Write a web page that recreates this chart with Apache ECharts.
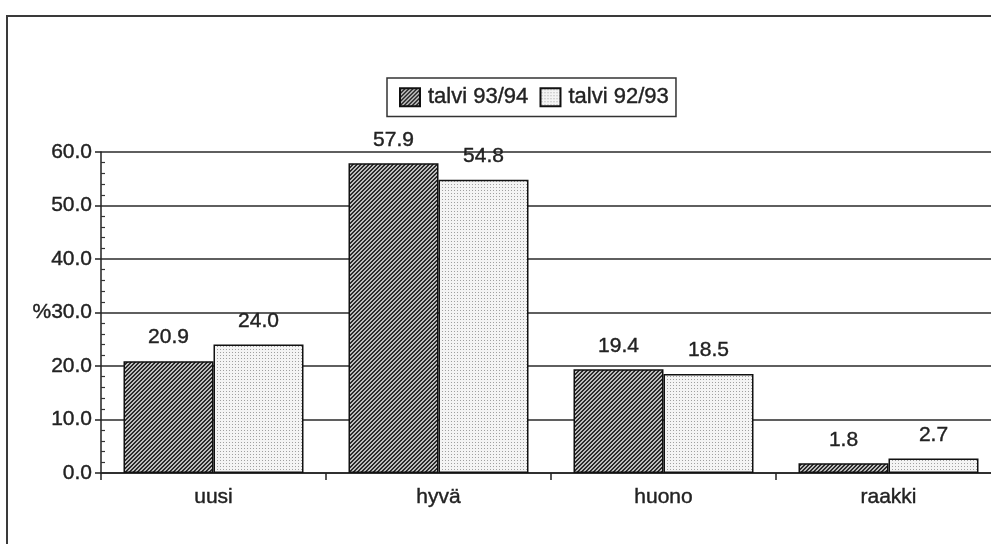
<!DOCTYPE html>
<html>
<head>
<meta charset="utf-8">
<script src="https://cdn.jsdelivr.net/npm/echarts@6/dist/echarts.min.js"></script>
<style>
  html, body { margin: 0; padding: 0; background: #fff; }
  #chart { width: 991px; height: 544px; }
</style>
</head>
<body>
<div id="chart"></div>
<script>
// Condition classes and the share (%) in each winter
const categories = ['uusi', 'hyvä', 'huono', 'raakki'];
const seriesNames = ['talvi 93/94', 'talvi 92/93'];
const winter9394 = [20.9, 57.9, 19.4, 1.8];
const winter9293 = [24.0, 54.8, 18.5, 2.7];
const yTicks = [0, 10, 20, 30, 40, 50, 60];

// Fill patterns: diagonal hatching and a fine dot screen
function hatchPattern() {
  const c = document.createElement('canvas');
  c.width = 8; c.height = 8;
  const ctx = c.getContext('2d');
  for (let y = 0; y < 8; y++) {
    for (let x = 0; x < 8; x++) {
      ctx.fillStyle = ((x + y) % 4) < 2 ? '#2a2a2a' : '#bdbdbd';
      ctx.fillRect(x, y, 1, 1);
    }
  }
  return c;
}
function dotPattern() {
  const c = document.createElement('canvas');
  c.width = 3; c.height = 3;
  const ctx = c.getContext('2d');
  ctx.fillStyle = '#f4f4f4';
  ctx.fillRect(0, 0, 3, 3);
  ctx.fillStyle = '#a0a0a0';
  ctx.fillRect(1, 1, 1, 1);
  return c;
}

const FONT = 'Liberation Sans, Arial, Helvetica, sans-serif';
const INK = '#222';
const textBase = {
  fontFamily: FONT,
  color: INK,
  textBorderColor: INK,
  textBorderWidth: 0.4
};

const chart = echarts.init(document.getElementById('chart'), null, { renderer: 'canvas' });

const barLabel = Object.assign({
  show: true,
  position: 'top',
  distance: 13,
  fontSize: 21,
  formatter: p => Number(p.value).toFixed(1)
}, textBase);

chart.setOption({
  backgroundColor: '#fff',
  animation: false,
  graphic: [{
    type: 'rect',
    shape: { x: 7, y: 16, width: 1200, height: 800 },
    style: { fill: 'none', stroke: '#3a3a3a', lineWidth: 2 },
    z: -10
  }],
  legend: {
    left: 387,
    top: 78,
    orient: 'horizontal',
    icon: 'rect',
    itemWidth: 20,
    itemHeight: 18,
    itemGap: 11,
    padding: [8, 7, 8, 12],
    borderColor: '#333',
    borderWidth: 1.5,
    textStyle: Object.assign({ fontSize: 22, padding: [0, 0, 0, 3] }, textBase),
    data: seriesNames
  },
  grid: {
    left: 101,
    width: 900,
    top: 152,
    bottom: 71,
    containLabel: false,
    outerBoundsMode: 'none'
  },
  xAxis: {
    type: 'category',
    data: categories,
    axisLine: { lineStyle: { color: '#222', width: 1.5 } },
    axisTick: { show: true, length: 7, lineStyle: { color: '#222', width: 1.5 } },
    axisLabel: Object.assign({ fontSize: 21, margin: 14 }, textBase),
    splitLine: { show: false }
  },
  yAxis: [{
    type: 'value',
    min: 0,
    max: 60,
    interval: 10,
    axisLine: { show: true, lineStyle: { color: '#222', width: 1.5 } },
    axisTick: { show: true, length: 6, lineStyle: { color: '#222', width: 1.5 } },
    axisLabel: Object.assign({
      fontSize: 21,
      margin: 9,
      formatter: v => (yTicks.indexOf(v) === 3 ? '%' : '') + v.toFixed(1)
    }, textBase),
    splitLine: { show: true, lineStyle: { color: '#2a2a2a', width: 1.5 } }
  }, {
    // inner minor ticks along the value axis
    type: 'value',
    position: 'left',
    min: 0,
    max: 60,
    interval: 10,
    axisLine: { show: false },
    axisLabel: { show: false },
    axisTick: { show: false, inside: true },
    minorTick: { show: true, splitNumber: 5, length: 4, lineStyle: { color: '#333', width: 1.2 } },
    splitLine: { show: false }
  }],
  series: [{
    name: seriesNames[0],
    type: 'bar',
    data: winter9394,
    barGap: '0%',
    barCategoryGap: '20%',
    itemStyle: {
      color: { image: hatchPattern(), repeat: 'repeat' },
      borderColor: '#111',
      borderWidth: 1.5
    },
    label: barLabel,
    z: 3
  }, {
    name: seriesNames[1],
    type: 'bar',
    data: winter9293,
    barGap: '0%',
    barCategoryGap: '20%',
    itemStyle: {
      color: { image: dotPattern(), repeat: 'repeat' },
      borderColor: '#111',
      borderWidth: 1.5
    },
    label: barLabel,
    z: 3
  }]
});
</script>
</body>
</html>
